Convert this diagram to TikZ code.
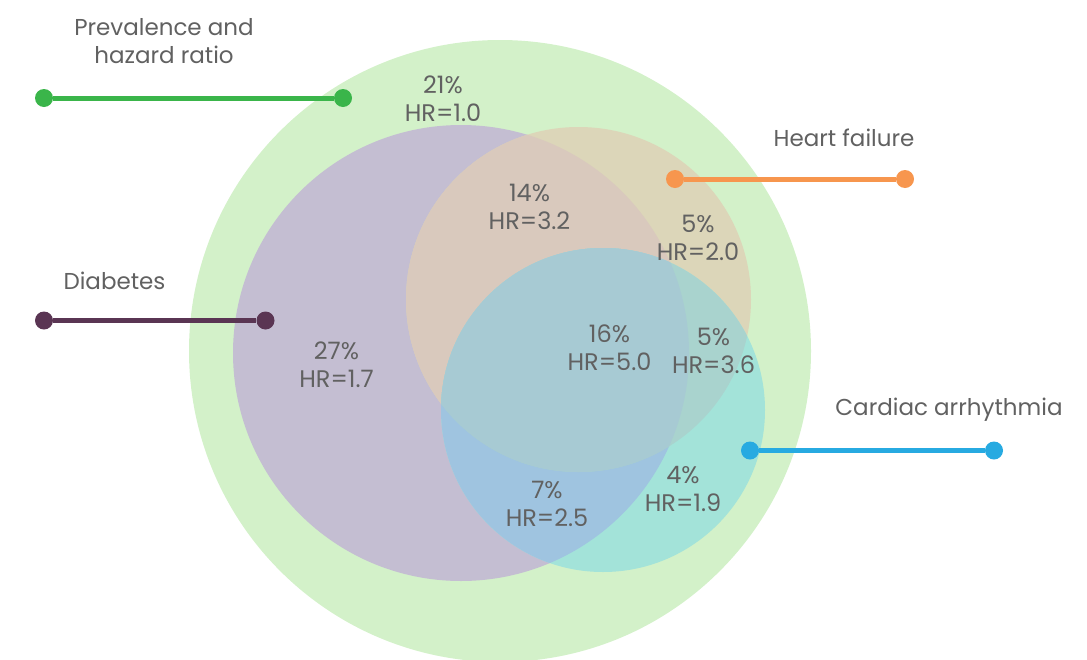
\documentclass[tikz,border=0pt]{standalone}
\usepackage{fontspec}
\setmainfont{Poppins}
\definecolor{cG}{HTML}{D3F1C9}
\definecolor{cP}{HTML}{C4BED2}
\definecolor{cOg}{HTML}{DCD6B9}
\definecolor{cOp}{HTML}{D9C9BD}
\definecolor{cCg}{HTML}{A3E3D9}
\definecolor{cCp}{HTML}{9FC4E0}
\definecolor{cCo}{HTML}{A9D3CE}
\definecolor{cCop}{HTML}{A7CAD3}
\definecolor{txt}{HTML}{616161}
\definecolor{lG}{HTML}{3AB54A}
\definecolor{lP}{HTML}{5A3553}
\definecolor{lO}{HTML}{F7964E}
\definecolor{lC}{HTML}{27AAE1}
\begin{document}
\begin{tikzpicture}[x=1pt,y=-1pt,
  lab/.style={text=txt,align=center,inner sep=0pt,font=\fontsize{23}{28}\selectfont},
  rlab/.style={text=txt,align=center,inner sep=0pt,font=\fontsize{24}{28}\selectfont},
  dotnode/.style={circle,fill=#1,minimum size=18pt,inner sep=0pt},
  legline/.style={line width=5pt,draw=#1}]
\useasboundingbox (0,0) rectangle (1087,659);
% circles
\def\CG{(500,351) circle[radius=311pt]}
\def\CP{(461,353) circle[radius=228pt]}
\def\CO{(578.5,299.5) circle[radius=172.5pt]}
\def\CC{(603,410) circle[radius=162pt]}
\fill[cG] \CG;
\fill[cP] \CP;
\fill[cOg] \CO;
\begin{scope}
  \clip \CP;
  \fill[cOp] \CO;
\end{scope}
\fill[cCg] \CC;
\begin{scope}
  \clip \CC;
  \fill[cCp] \CP;
  \fill[cCo] \CO;
  \clip \CO;
  \fill[cCop] \CP;
\end{scope}
% legend lines
\node[dotnode=lG] (g1) at (44,98) {};
\node[dotnode=lG] (g2) at (343,98) {};
\draw[legline=lG] (g1) -- (g2);
\node[dotnode=lP] (p1) at (44,320.5) {};
\node[dotnode=lP] (p2) at (265.5,320.5) {};
\draw[legline=lP] (p1) -- (p2);
\node[dotnode=lO] (o1) at (675,179) {};
\node[dotnode=lO] (o2) at (905,179) {};
\draw[legline=lO] (o1) -- (o2);
\node[dotnode=lC] (c1) at (750,450.5) {};
\node[dotnode=lC] (c2) at (994,450.5) {};
\draw[legline=lC] (c1) -- (c2);
% legend labels
\node[lab] (tprev) at (164,41) {Prevalence and\\hazard ratio};
\node[lab] (tdia) at (114.5,281) {Diabetes};
\node[lab] (thf) at (844,138) {Heart failure};
\node[lab] (tca) at (949,410) {Cardiac arrhythmia};
% region labels
\node[rlab] (r21) at (443,99) {21\%\\HR=1.0};
\node[rlab] (r14) at (529.5,207) {14\%\\HR=3.2};
\node[rlab] (r5a) at (698,237.5) {5\%\\HR=2.0};
\node[rlab] (r27) at (336.5,365) {27\%\\HR=1.7};
\node[rlab] (r16) at (609.5,348) {16\%\\HR=5.0};
\node[rlab] (r5b) at (713.5,350.5) {5\%\\HR=3.6};
\node[rlab] (r7) at (547,504) {7\%\\HR=2.5};
\node[rlab] (r4) at (683,488.5) {4\%\\HR=1.9};
\end{tikzpicture}
\end{document}
